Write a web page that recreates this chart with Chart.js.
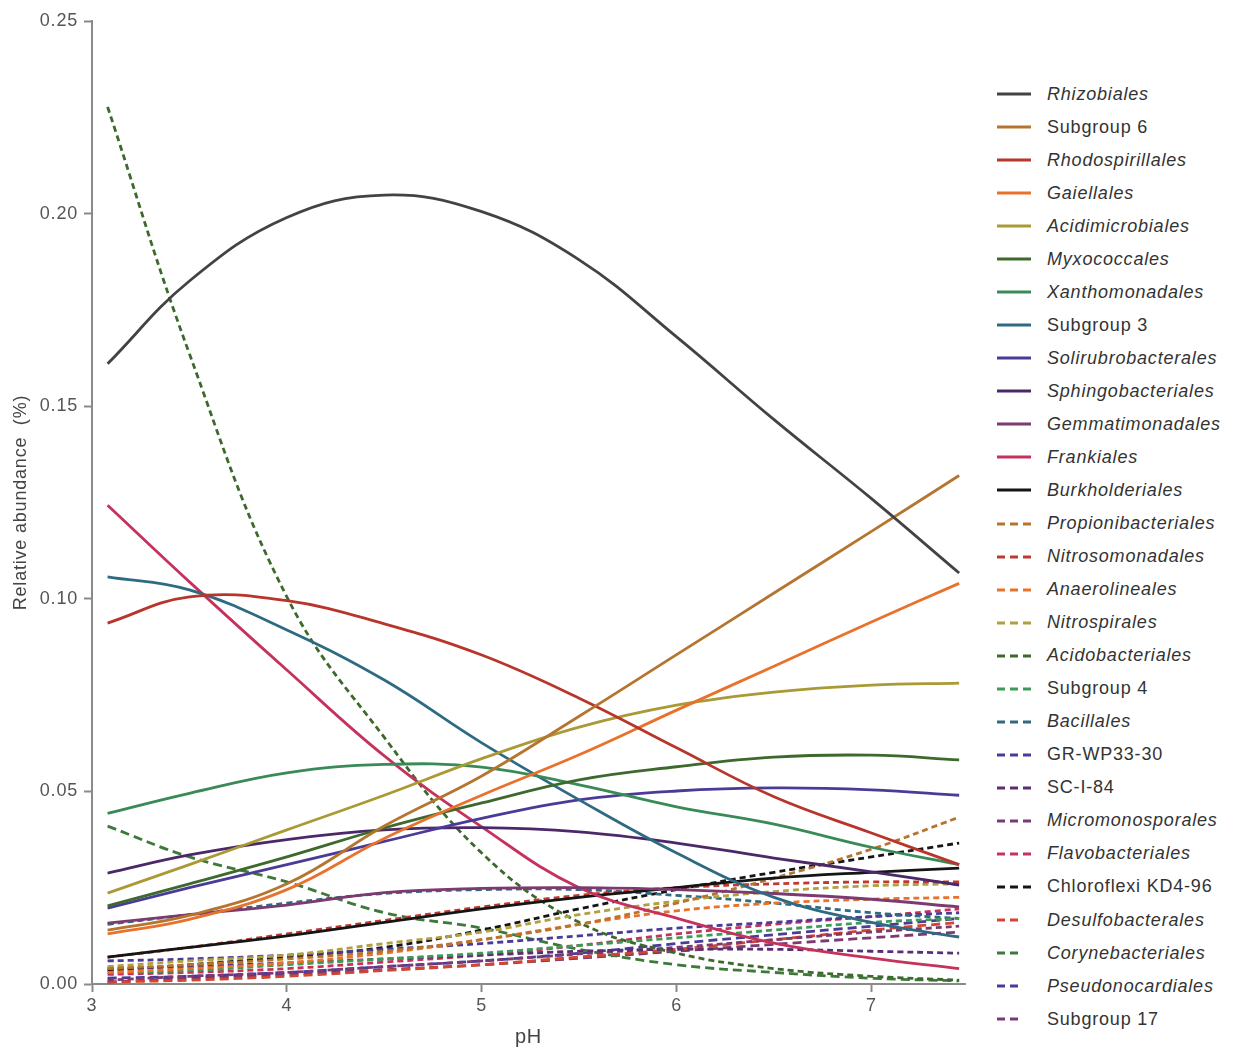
<!DOCTYPE html>
<html>
<head>
<meta charset="utf-8">
<title>Relative abundance vs pH</title>
<script src="https://cdn.jsdelivr.net/npm/chart.js@4"></script>
<style>
  body { margin: 0; background: #fff; font-family: "Liberation Sans", Arial, sans-serif; }
  #wrap { position: absolute; left: 0; top: 0; width: 980px; height: 1053px; }
  #legend { position: absolute; left: 997px; top: 0; }
  .item { position: absolute; left: 0; height: 20px; white-space: nowrap; display: flex; align-items: center; }
  .item svg { width: 34px; height: 6px; }
  .item span { margin-left: 16px; font-size: 18px; color: #333; letter-spacing: 0.8px; }
</style>
</head>
<body>
<div id="wrap"><canvas id="chart"></canvas></div>
<div id="legend"></div>
<script>
const pH = [3.08, 3.5, 4, 4.5, 5, 5.5, 6, 6.5, 7, 7.45];
const xTicks = [3, 4, 5, 6, 7];
const yTicks = [0, 0.05, 0.10, 0.15, 0.20, 0.25];

// solid lines
const rhizobiales         = [0.161, 0.1825, 0.199, 0.2048, 0.2005, 0.188, 0.168, 0.1465, 0.126, 0.1067];
const subgroup6           = [0.014, 0.0178, 0.026, 0.041, 0.054, 0.0695, 0.0855, 0.1015, 0.1175, 0.132];
const rhodospirillales    = [0.0937, 0.1005, 0.0995, 0.0935, 0.0854, 0.0742, 0.0613, 0.0486, 0.0392, 0.031];
const gaiellales          = [0.013, 0.0168, 0.0245, 0.0378, 0.049, 0.0595, 0.0711, 0.0825, 0.094, 0.104];
const acidimicrobiales    = [0.0236, 0.031, 0.040, 0.049, 0.0585, 0.0667, 0.0724, 0.0758, 0.0776, 0.0781];
const myxococcales        = [0.0203, 0.026, 0.033, 0.0405, 0.047, 0.053, 0.0564, 0.0589, 0.0594, 0.0582];
const xanthomonadales     = [0.0443, 0.0495, 0.0548, 0.057, 0.0563, 0.0517, 0.046, 0.0415, 0.0355, 0.031];
const subgroup3           = [0.1057, 0.1023, 0.0919, 0.0789, 0.0626, 0.0478, 0.034, 0.0225, 0.016, 0.0122];
const solirubrobacterales = [0.0197, 0.025, 0.031, 0.037, 0.043, 0.0478, 0.0501, 0.0509, 0.0504, 0.049];
const sphingobacteriales  = [0.0288, 0.0335, 0.0375, 0.040, 0.0406, 0.0395, 0.0366, 0.0327, 0.0291, 0.0257];
const gemmatimonadales    = [0.0158, 0.018, 0.0205, 0.0237, 0.0248, 0.025, 0.0245, 0.0235, 0.022, 0.020];
const frankiales          = [0.1243, 0.1044, 0.0815, 0.0592, 0.0408, 0.025, 0.0171, 0.0106, 0.0067, 0.004];
const burkholderiales     = [0.007, 0.0095, 0.0125, 0.016, 0.0195, 0.0225, 0.025, 0.0275, 0.029, 0.0301];

// dashed lines
const propionibacteriales = [0.004, 0.005, 0.0065, 0.0085, 0.0115, 0.0155, 0.021, 0.0275, 0.035, 0.0433];
const nitrosomonadales    = [0.007, 0.0095, 0.013, 0.0165, 0.020, 0.023, 0.025, 0.026, 0.0265, 0.0265];
const anaerolineales      = [0.003, 0.004, 0.0055, 0.008, 0.0115, 0.0155, 0.019, 0.021, 0.022, 0.0225];
const nitrospirales       = [0.0045, 0.006, 0.0075, 0.0105, 0.0135, 0.018, 0.0215, 0.024, 0.0255, 0.026];
const acidobacteriales    = [0.2277, 0.1636, 0.1005, 0.064, 0.034, 0.016, 0.008, 0.004, 0.002, 0.001];
const subgroup4           = [0.003, 0.0035, 0.005, 0.0065, 0.008, 0.010, 0.012, 0.014, 0.016, 0.017];
const bacillales          = [0.0155, 0.018, 0.021, 0.0235, 0.0245, 0.0245, 0.023, 0.021, 0.0185, 0.017];
const grwp3330            = [0.006, 0.0065, 0.0075, 0.009, 0.0105, 0.0125, 0.0145, 0.016, 0.0175, 0.0185];
const sci84               = [0.004, 0.0045, 0.0055, 0.0065, 0.0075, 0.0085, 0.009, 0.009, 0.0085, 0.008];
const micromonosporales   = [0.001, 0.002, 0.003, 0.0045, 0.006, 0.0078, 0.0095, 0.0115, 0.0135, 0.015];
const flavobacteriales    = [0.0025, 0.003, 0.004, 0.0057, 0.0075, 0.010, 0.013, 0.0155, 0.0175, 0.0195];
const chloroflexiKD496    = [0.0035, 0.005, 0.007, 0.0095, 0.014, 0.0195, 0.0245, 0.029, 0.033, 0.0366];
const desulfobacterales   = [0.0005, 0.001, 0.002, 0.0035, 0.005, 0.007, 0.009, 0.0115, 0.014, 0.016];
const corynebacteriales   = [0.041, 0.033, 0.0265, 0.0185, 0.0145, 0.009, 0.005, 0.003, 0.0015, 0.0008];
const pseudonocardiales   = [0.0015, 0.002, 0.003, 0.0045, 0.006, 0.008, 0.0105, 0.0128, 0.015, 0.017];
const subgroup17          = [0.0005, 0.0015, 0.0025, 0.0037, 0.005, 0.0067, 0.0085, 0.0103, 0.012, 0.0135];

const names = ['Rhizobiales', 'Subgroup 6', 'Rhodospirillales', 'Gaiellales', 'Acidimicrobiales',
    'Myxococcales', 'Xanthomonadales', 'Subgroup 3', 'Solirubrobacterales', 'Sphingobacteriales',
    'Gemmatimonadales', 'Frankiales', 'Burkholderiales', 'Propionibacteriales', 'Nitrosomonadales',
    'Anaerolineales', 'Nitrospirales', 'Acidobacteriales', 'Subgroup 4', 'Bacillales', 'GR-WP33-30',
    'SC-I-84', 'Micromonosporales', 'Flavobacteriales', 'Chloroflexi KD4-96', 'Desulfobacterales',
    'Corynebacteriales', 'Pseudonocardiales', 'Subgroup 17'];
const values = [rhizobiales, subgroup6, rhodospirillales, gaiellales, acidimicrobiales,
    myxococcales, xanthomonadales, subgroup3, solirubrobacterales, sphingobacteriales,
    gemmatimonadales, frankiales, burkholderiales, propionibacteriales, nitrosomonadales,
    anaerolineales, nitrospirales, acidobacteriales, subgroup4, bacillales, grwp3330,
    sci84, micromonosporales, flavobacteriales, chloroflexiKD496, desulfobacterales,
    corynebacteriales, pseudonocardiales, subgroup17];
// names that are not set in italics
const upright = ['Subgroup 6', 'Subgroup 3', 'Subgroup 4', 'GR-WP33-30', 'SC-I-84', 'Chloroflexi KD4-96', 'Subgroup 17'];

const colors = ['#434343', '#b5752f', '#b8352b', '#e8722c', '#a99a35', '#3d6a2c', '#3a8a58',
    '#2e6a82', '#4b3b98', '#4c2868', '#7c3a70', '#c5325c', '#151515',
    '#b5752f', '#c0392f', '#e8722c', '#b0a040', '#3d6a2c', '#3f9a5a', '#2e6a82', '#4b3b98',
    '#5a2e72', '#7c3a70', '#c5325c', '#151515', '#d2452f', '#3d7a3a', '#4b3b98', '#7c3a70'];

function dashFor(i) {
    if (i < 13) return [];
    if (i < 25) return [6, 4];
    return [9, 5];
}

const fontFamily = '"Liberation Sans", Arial, sans-serif';

const letterSpacing = {
    id: 'letterSpacing',
    beforeDraw(chart) {
        chart.ctx.letterSpacing = '0.8px';
    }
};

document.addEventListener('DOMContentLoaded', function() {
    const datasets = names.map((name, i) => ({
        label: name,
        data: pH.map((x, j) => ({ x: x, y: values[i][j] })),
        borderColor: colors[i],
        backgroundColor: colors[i],
        borderDash: dashFor(i),
        fill: false
    }));

    new Chart(document.getElementById('chart').getContext('2d'), {
        type: 'line',
        data: { datasets: datasets },
        plugins: [letterSpacing],
        options: {
            responsive: true,
            maintainAspectRatio: false,
            animation: false,
            layout: { padding: { left: 0, top: 21, right: 15, bottom: 0 } },
            plugins: { legend: { display: false }, tooltip: { enabled: false } },
            elements: {
                point: { radius: 0 },
                line: { borderWidth: 2.8, tension: 0.4 }
            },
            scales: {
                x: {
                    type: 'linear',
                    min: 3,
                    max: 7.48,
                    afterBuildTicks: s => { s.ticks = xTicks.map(v => ({ value: v })); },
                    afterFit: s => { s.height = 69; },
                    grid: { drawOnChartArea: false, drawTicks: true, tickLength: 8, tickWidth: 2, tickColor: '#8a8a8a' },
                    border: { color: '#8a8a8a', width: 2 },
                    ticks: { color: '#555', font: { family: fontFamily, size: 18 }, padding: 3, maxRotation: 0, callback: v => v },
                    title: { display: true, text: 'pH', color: '#444', font: { family: fontFamily, size: 20 }, padding: { top: 0, bottom: 4 } }
                },
                y: {
                    min: 0,
                    max: 0.25,
                    afterBuildTicks: s => { s.ticks = yTicks.map(v => ({ value: v })); },
                    afterFit: s => { s.width = 92; },
                    grid: { drawOnChartArea: false, drawTicks: true, tickLength: 8, tickWidth: 2, tickColor: '#8a8a8a' },
                    border: { color: '#8a8a8a', width: 2 },
                    ticks: { color: '#555', font: { family: fontFamily, size: 18 }, padding: 6, callback: v => v.toFixed(2) },
                    title: { display: true, text: 'Relative abundance  (%)', color: '#444', font: { family: fontFamily, size: 18 }, padding: { top: 10, bottom: 0 } }
                }
            }
        }
    });

    // legend on the right, built from the same names / colours
    const legend = document.getElementById('legend');
    names.forEach((name, i) => {
        const item = document.createElement('div');
        item.className = 'item';
        item.style.top = (94 + i * 33.04 - 10) + 'px';
        const dash = i < 13 ? '' : '8,5';
        const len = i < 25 ? 34 : 21;
        item.innerHTML = '<svg viewBox="0 0 34 6"><line x1="0" y1="3" x2="' + len + '" y2="3" stroke="' + colors[i] +
            '" stroke-width="3.2"' + (dash ? ' stroke-dasharray="' + dash + '"' : '') + '/></svg>';
        const span = document.createElement('span');
        span.textContent = name;
        if (upright.indexOf(name) < 0) span.style.fontStyle = 'italic';
        item.appendChild(span);
        legend.appendChild(item);
    });
});
</script>
</body>
</html>
